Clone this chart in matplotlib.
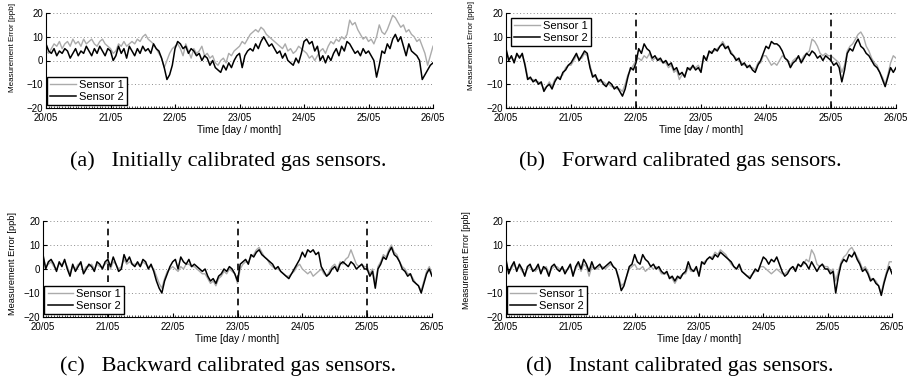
import numpy as np
import matplotlib
matplotlib.use("Agg")
import matplotlib.pyplot as plt
from matplotlib.ticker import MultipleLocator

# ---------------- data (hourly samples, 20/05 00:00 .. 26/05 00:00) ----------------
day_labels = ["20/05", "21/05", "22/05", "23/05", "24/05", "25/05", "26/05"]
day_values = [20, 21, 22, 23, 24, 25, 26]

# (a) Initially calibrated
a_s1 = [4, 3, 5, 7, 6, 8, 5, 7, 8, 6, 9, 7, 8, 6, 9, 7, 8, 9, 7, 6, 8, 9, 7, 6,
        5, 3, 4, 7, 6, 8, 6, 7, 8, 7, 9, 8, 10, 11, 9, 8, 7, 5, 3, 1, -3, 0, 3, 5,
        6, 7, 5, 2, 7, 4, 1, 5, 3, 4, 6, 2, 3, 1, 2, -1, -2, 0, 1, -1, 3, 2, 4, 5,
        6, 8, 7, 9, 11, 12, 13, 12, 14, 13, 11, 10, 9, 8, 7, 6, 5, 7, 4, 5, 3, 4, 6, 5,
        4, 3, 1, 2, 0, 2, 4, 5, 3, 6, 8, 7, 9, 8, 10, 9, 11, 17, 15, 16, 13, 11, 9, 10,
        8, 9, 7, 10, 15, 12, 11, 13, 16, 19, 18, 16, 14, 15, 12, 13, 11, 10, 8, 9, 6, 3, -2, 2,
        6]
a_s2 = [7, 4, 3, 5, 2, 4, 3, 5, 4, 1, 3, 5, 2, 4, 3, 6, 4, 2, 5, 3, 6, 4, 2, 5,
        4, 0, 2, 6, 3, 5, 1, 6, 4, 2, 5, 3, 6, 4, 5, 3, 7, 5, 4, 1, -3, -8, -6, -2,
        5, 8, 7, 5, 6, 3, 5, 4, 2, 3, 0, 2, 1, -2, 0, -3, -4, -5, -2, -4, -1, -3, 0, 2,
        3, -3, 2, 4, 5, 4, 7, 5, 8, 10, 8, 6, 7, 5, 3, 4, 1, 3, 0, -1, -2, 1, -1, 3,
        8, 9, 7, 8, 4, 6, 0, 2, -1, 2, 0, 3, 5, 2, 6, 4, 8, 7, 5, 3, 4, 2, 5, 3,
        4, 2, 0, -7, -2, 4, 3, 7, 5, 9, 11, 8, 10, 6, 2, 7, 4, 3, 2, 0, -8, -6, -4, -2,
        -1]

# (b) Forward calibrated
b_s1 = [4, 1, 1, 0, 2, 2, 2, -1, -7, -8, -8, -9, -9, -10, -12, -11, -9, -11, -8, -7, -7, -6, -3, -2,
        -2, 0, 2, 1, 1, 3, 2, -2, -6, -7, -8, -9, -9, -10, -10, -11, -11, -12, -12, -13, -10, -6, -4, -2,
        0, 1, 0, 2, 1, 3, 0, 1, 1, 0, -1, -1, -3, -2, -5, -4, -8, -6, -6, -4, -3, -3, -3, -2,
        -4, 1, 1, 3, 4, 4, 5, 6, 8, 6, 5, 4, 2, 1, 0, -1, -2, -2, -3, -3, -4, -1, -1, 2,
        2, 0, -2, -1, -2, 0, 2, 1, 0, -2, 0, 1, 1, 0, 2, 3, 4, 9, 8, 6, 3, 2, 3, 2,
        2, 1, 0, -1, -5, -2, 4, 6, 7, 9, 11, 12, 10, 6, 4, 1, -1, -2, -5, -7, -10, -6, -1, 2,
        1]
b_s2 = [5, 0, 2, -1, 3, 1, 3, -2, -8, -7, -9, -8, -10, -9, -13, -11, -10, -12, -9, -7, -8, -5, -4, -2,
        -1, 1, 3, 0, 2, 4, 3, -3, -7, -6, -9, -8, -10, -11, -9, -10, -12, -11, -13, -15, -12, -7, -3, -4,
        -1, 5, 3, 7, 5, 4, 1, 2, 0, 1, -1, 0, -2, -1, -4, -3, -6, -5, -7, -3, -4, -2, -4, -3,
        -5, 2, 0, 4, 3, 5, 4, 6, 7, 5, 6, 3, 2, 0, 1, -2, -1, -3, -2, -4, -5, -2, 0, 3,
        6, 5, 8, 7, 7, 6, 4, 1, 0, -3, -1, 0, 2, -1, 1, 3, 2, 4, 3, 1, 2, 0, 2, 1,
        0, -2, -1, -3, -9, -4, 3, 5, 4, 7, 9, 6, 5, 3, 2, 0, -2, -3, -5, -8, -11, -7, -3, -5,
        -3]
b_calib_days = [22, 25]

# (c) Backward calibrated
c_s1 = [5, 1, 2, 3, 1, 0, 2, 2, 3, 1, -2, 1, 0, 2, 2, -1, 1, 1, 2, 0, 2, 1, 1, 2,
        3, 0, 3, 2, 0, 1, 4, 2, 3, 2, 2, 2, 1, 3, 2, 1, 1, 0, -3, -6, -8, -4, -1, 0,
        1, 0, -1, 1, 0, 2, 2, 1, 1, 0, -1, -2, -2, -4, -6, -5, -7, -4, -3, -1, -2, 0, -1, -2,
        -6, 0, 2, 3, 3, 5, 6, 8, 9, 7, 5, 4, 2, 1, 0, 0, -1, -2, -3, -3, -2, -1, 1, 2,
        0, -1, -2, -1, -3, -2, -1, 0, -2, -3, -1, 1, 2, 0, 3, 2, 4, 5, 8, 5, 2, 1, 2, 1,
        1, -2, 0, -6, 1, 3, 6, 5, 8, 10, 7, 6, 3, 1, 0, -2, -2, -4, -6, -7, -9, -5, -1, 1,
        -2]
c_s2 = [6, 0, 3, 4, 2, -1, 3, 1, 4, 0, -3, 2, -1, 1, 3, -2, 0, 2, 1, -1, 3, 2, 0, 3,
        4, 1, 5, 2, -1, 0, 6, 3, 5, 2, 1, 3, 1, 4, 3, 0, 2, -1, -5, -8, -10, -5, -2, 1,
        3, 4, 0, 5, 3, 2, 4, 1, 2, 1, 0, -1, 0, -3, -5, -4, -6, -3, -2, 0, -1, 1, 0, -2,
        -5, 2, 3, 4, 2, 6, 5, 7, 8, 6, 5, 4, 3, 2, 0, 1, -1, -2, -3, -4, -2, 0, 2, 4,
        7, 5, 8, 7, 8, 6, 7, 1, -1, -3, -2, 0, 1, -1, 2, 3, 2, 1, 3, 2, 0, 1, 2, 0,
        0, -3, -1, -8, 0, 2, 5, 4, 7, 9, 6, 5, 3, 0, -1, -3, -2, -5, -6, -7, -10, -6, -2, 0,
        -3]
c_calib_days = [21, 23, 25]

# (d) Instant calibrated
d_s1 = [3, -1, 0, 2, 0, 1, -1, -2, 0, 1, 0, -1, 1, -1, 0, 1, -2, 0, 1, 1, 0, 0, -1, 0,
        1, -2, 0, 2, -1, 2, 1, -3, 1, 0, 0, 1, 1, 0, 1, 2, 1, 0, -3, -7, -6, -3, 0, 1,
        2, 0, 0, 1, -1, 0, 1, 0, 1, 0, -2, -2, -2, -3, -4, -6, -4, -3, -2, -2, 1, -1, -1, 0,
        -2, 2, 3, 4, 5, 5, 7, 6, 8, 7, 6, 4, 2, 1, 0, 1, -1, -2, -3, -3, -2, -1, -1, 1,
        1, 0, -1, -2, -1, 0, -1, -2, -2, -1, 0, 1, 0, 2, 1, 2, 4, 3, 8, 6, 2, 1, 2, 1,
        1, -1, 0, -5, -1, 3, 5, 6, 8, 9, 7, 5, 3, 0, 1, -1, -4, -4, -5, -7, -10, -5, -1, 3,
        3]
d_s2 = [4, -2, 1, 3, -1, 2, 0, -3, 1, 2, -1, 0, 2, -2, 1, 0, -3, 1, 2, 0, -1, 1, -2, 0,
        2, -3, 1, 3, 0, 4, 2, -1, 3, 0, 1, 2, 0, 1, 2, 3, 1, 0, -4, -9, -7, -3, 1, 2,
        6, 3, 2, 6, 4, 3, 1, 2, 0, 1, -1, -2, -1, -4, -3, -5, -3, -4, -2, -1, 3, 0, -1, 1,
        -3, 3, 2, 4, 5, 4, 6, 5, 7, 6, 5, 4, 3, 1, 0, 2, -1, -2, -3, -4, -2, 0, -1, 2,
        5, 4, 2, 4, 3, 5, 2, -1, -3, -2, 0, 1, -1, 2, 1, 3, 2, 0, 3, 1, -1, 1, 2, 0,
        0, -2, -1, -10, -3, 2, 4, 3, 6, 5, 7, 4, 2, -1, 0, -2, -5, -4, -6, -7, -11, -6, -2, 1,
        -2]

captions = ["(a)   Initially calibrated gas sensors.",
            "(b)   Forward calibrated gas sensors.",
            "(c)   Backward calibrated gas sensors.",
            "(d)   Instant calibrated gas sensors."]

t = 20 + np.arange(len(a_s1)) / 24.0

# ---------------- figure ----------------
fig = plt.figure(figsize=(9.07, 3.88), dpi=100)
W, H = 907.0, 388.0

def ax_rect(l, r, top, bot):
    return [l / W, 1 - bot / H, (r - l) / W, (bot - top) / H]

# rect, s1, s2, calibration lines, legend loc, legend anchor, ylabel size, ylabel coords
panels = [
    (ax_rect(46, 433, 13, 108), a_s1, a_s2, [], "lower left", (0.003, 0.03), 5.8, (-0.078, 0.64)),
    (ax_rect(506, 896, 13, 108), b_s1, b_s2, b_calib_days, "upper left", (0.012, 0.95), 5.8, (-0.080, 0.656)),
    (ax_rect(43, 432, 221, 317), c_s1, c_s2, c_calib_days, "lower left", (0.003, 0.03), 6.7, (-0.066, 0.56)),
    (ax_rect(506, 892, 221, 317), d_s1, d_s2, [], "lower left", (0.003, 0.03), 6.3, (-0.091, 0.59)),
]

sans = ["Liberation Sans", "DejaVu Sans"]
gray = "#ababab"

for i, (rect, s1, s2, calib, loc, anchor, ylsize, ylcoords) in enumerate(panels):
    ax = fig.add_axes(rect)
    for yv in [-10, 0, 10, 20]:
        ax.axhline(yv, color="#8c8c8c", lw=0.7, ls=(0, (1, 2.5)), zorder=0)
    for cd in calib:
        ax.axvline(cd, color="black", lw=1.2, ls=(0, (4, 3)), zorder=3)
    ax.plot(t, s1, color=gray, lw=1.0, label="Sensor 1", zorder=1)
    ax.plot(t, s2, color="black", lw=1.1, label="Sensor 2", zorder=2)
    ax.set_xlim(20, 26)
    ax.set_ylim(-20, 20)
    ax.set_yticks([-20, -10, 0, 10, 20])
    ax.set_xticks(day_values)
    ax.set_xticklabels(day_labels)
    ax.xaxis.set_minor_locator(MultipleLocator(1 / 24.0))
    ax.tick_params(axis="both", which="major", direction="in", length=3,
                   width=0.8, labelsize=7)
    ax.tick_params(axis="x", which="major", pad=3.8)
    ax.tick_params(axis="y", which="major", pad=2)
    ax.tick_params(axis="x", which="minor", direction="in", length=1.2, width=0.5)
    for lab in ax.get_xticklabels() + ax.get_yticklabels():
        lab.set_family(sans)
    ax.spines["top"].set_visible(False)
    ax.spines["right"].set_visible(False)
    ax.spines["left"].set_linewidth(0.8)
    ax.spines["bottom"].set_linewidth(0.8)
    ax.set_xlabel("Time [day / month]", fontsize=7.3, family=sans, labelpad=1.5)
    ax.set_ylabel("Measurement Error [ppb]", fontsize=ylsize, family=sans)
    ax.yaxis.set_label_coords(*ylcoords)
    leg = ax.legend(loc=loc, bbox_to_anchor=anchor, prop={"family": sans, "size": 8},
                    handlelength=2.3, handletextpad=0.3, borderpad=0.3,
                    labelspacing=0.15, fancybox=False, framealpha=1,
                    borderaxespad=0.0)
    leg.get_frame().set_edgecolor("black")
    leg.get_frame().set_linewidth(1.0)

cap_pos = [(228, 161), (680, 161), (228, 366), (680, 366)]
for (x, y), c in zip(cap_pos, captions):
    fig.text(x / W, 1 - y / H, c, ha="center", va="center",
             family=["Liberation Serif", "DejaVu Serif"], fontsize=16)

fig.savefig("out.png", dpi=100)
